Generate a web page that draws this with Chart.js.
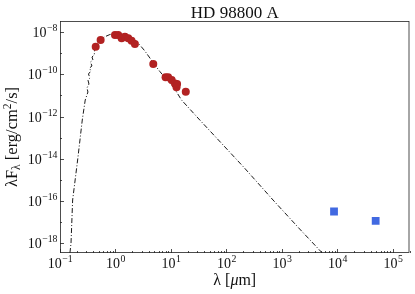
<!DOCTYPE html>
<html><head><meta charset="utf-8">
<script src="https://cdn.jsdelivr.net/npm/chart.js@4/dist/chart.umd.min.js"></script>
<style>html,body{margin:0;padding:0;background:#fff;}#wrap{width:415px;height:294px;}</style>
</head><body><div id="wrap"><canvas id="c" width="415" height="294"></canvas></div>
<script>
// Model SED (wavelength in micron, lambda*F_lambda in erg/cm^2/s)
const modelWave = [0.151,0.158,0.169,0.210,0.252,0.285,0.319,0.306,0.333,0.319,0.347,0.326,0.361,0.340,0.377,0.354,0.393,0.377,0.414,0.427,0.525,0.646,0.794,0.977,1.20,1.48,1.82,2.24,2.75,3.39,4.17,5.13,6.31,7.76,9.55,11.7,15.5,33.1,81.5,214,692,2090,5140,6310];
const modelFlux = [3.48e-19,1.03e-18,1.12e-16,1.09e-14,6.84e-13,6.05e-12,1.45e-11,2.24e-11,3.46e-11,5.35e-11,6.65e-11,1.03e-10,1.43e-10,1.98e-10,2.46e-10,3.80e-10,4.73e-10,6.56e-10,8.17e-10,1.95e-9,4.18e-9,6.00e-9,7.62e-9,8.49e-9,8.49e-9,7.62e-9,6.12e-9,4.18e-9,2.43e-9,1.26e-9,5.89e-10,2.74e-10,1.35e-10,7.03e-11,3.85e-11,2.00e-11,6.05e-12,6.84e-13,5.41e-14,3.54e-15,1.12e-16,4.75e-18,3.87e-19,1.41e-19];
// Photometry (red circles)
const photWave = [0.44,0.54,0.98,1.12,1.29,1.48,1.70,1.95,2.24,4.8,8.0,8.9,10.3,11.8,12.6,12.9,18.5];
const photFlux = [2.0e-9,4.2e-9,7.2e-9,7.2e-9,5.0e-9,6.0e-9,5.0e-9,3.9e-9,2.7e-9,3.1e-10,7.2e-11,7.2e-11,5.4e-11,3.7e-11,2.4e-11,3.5e-11,1.5e-11];
// Millimetre points (blue squares)
const mmWave = [8700, 49000];
const mmFlux = [3.2e-17, 1.15e-17];
// Tick label exponents
const xTickExps = [-1,0,1,2,3,4,5];
const yTickExps = [-18,-16,-14,-12,-10,-8];
const yMinorExps = [-17,-15,-13,-11,-9];
const titleText = 'HD 98800 A';

const SERIF = '"Liberation Serif","DejaVu Serif",serif';
const toXY = (xs, ys) => xs.map((v,i)=>({x:v,y:ys[i]}));

function drawPow(ctx, x, y, exp, align, size){
  const base='10';
  const e = exp<0 ? '\u2212'+(-exp) : String(exp);
  ctx.font = size+'px '+SERIF;
  const wb = ctx.measureText(base).width;
  ctx.font = (size*0.7)+'px '+SERIF;
  const we = ctx.measureText(e).width;
  const x0 = align==='center' ? x-(wb+we)/2 : x-(wb+we);
  ctx.textAlign='left'; ctx.textBaseline='alphabetic';
  ctx.font = size+'px '+SERIF;
  ctx.fillText(base, x0, y);
  ctx.font = (size*0.7)+'px '+SERIF;
  ctx.fillText(e, x0+wb+0.5, y-size*0.42);
}

const decor = {
  id:'decor',
  afterDraw(chart){
    const ctx=chart.ctx, a=chart.chartArea, xs=chart.scales.x, ys=chart.scales.y;
    ctx.save();
    ctx.fillStyle='#000'; ctx.strokeStyle='#222'; ctx.lineWidth=0.8;
    ctx.strokeRect(a.left+0.5, a.top+0.5, a.right-a.left-1, a.bottom-a.top-1);
    ctx.beginPath();
    for(let d=-1; d<=5; d++){
      for(let s=1; s<=9; s++){
        const v=s*Math.pow(10,d);
        const px=xs.getPixelForValue(v);
        if(px<a.left-0.1||px>a.right+0.1) continue;
        const len = s===1?4:2;
        ctx.moveTo(Math.round(px)+0.5, a.bottom); ctx.lineTo(Math.round(px)+0.5, a.bottom-len);
      }
    }
    yTickExps.forEach(e=>{const py=Math.round(ys.getPixelForValue(Math.pow(10,e)))+0.5; ctx.moveTo(a.left,py); ctx.lineTo(a.left+4,py);});
    yMinorExps.forEach(e=>{const py=Math.round(ys.getPixelForValue(Math.pow(10,e)))+0.5; ctx.moveTo(a.left,py); ctx.lineTo(a.left+2,py);});
    ctx.stroke();
    ctx.fillStyle='#111';
    xTickExps.forEach(e=>drawPow(ctx, xs.getPixelForValue(Math.pow(10,e)), a.bottom+14.5, e, 'center', 14));
    yTickExps.forEach(e=>drawPow(ctx, a.left-3, ys.getPixelForValue(Math.pow(10,e))+5, e, 'right', 14));
    ctx.font='17px '+SERIF; ctx.textAlign='center'; ctx.textBaseline='alphabetic';
    ctx.fillText(titleText, (a.left+a.right)/2, 18);
    const cx=(a.left+a.right)/2;
    const parts=[['λ [','16px '],['μ','italic 16px '],['m]','16px ']];
    let tw=0; parts.forEach(p=>{ctx.font=p[1]+SERIF; tw+=ctx.measureText(p[0]).width;});
    let x0=cx-tw/2; ctx.textAlign='left';
    parts.forEach(p=>{ctx.font=p[1]+SERIF; ctx.fillText(p[0],x0,285); x0+=ctx.measureText(p[0]).width;});
    ctx.translate(17,(a.top+a.bottom)/2); ctx.rotate(-Math.PI/2);
    const yp=[['λF',16.5,0],['λ',11.5,3],[' [erg/cm',16.5,0],['2',11.5,-6.5],['/s]',16.5,0]];
    let yw=0; yp.forEach(p=>{ctx.font=p[1]+'px '+SERIF; yw+=ctx.measureText(p[0]).width;});
    let y0=-yw/2;
    yp.forEach(p=>{ctx.font=p[1]+'px '+SERIF; ctx.fillText(p[0],y0,p[2]); y0+=ctx.measureText(p[0]).width;});
    ctx.restore();
  }
};

new Chart(document.getElementById('c'), {
  type:'scatter',
  data:{datasets:[
    {label:'photometry', data:toXY(photWave,photFlux), pointStyle:'circle', pointRadius:4, pointBackgroundColor:'#b22222', pointBorderWidth:0, showLine:false, order:1},
    {label:'mm', data:toXY(mmWave,mmFlux), pointStyle:'rect', pointRadius:5.5, pointBackgroundColor:'#4169e1', pointBorderWidth:0, showLine:false, order:2},
    {label:'model', data:toXY(modelWave,modelFlux), showLine:true, pointRadius:0, borderColor:'#000', borderWidth:0.9, borderDash:[5,2,1,2], tension:0, fill:false, order:3}
  ]},
  options:{
    responsive:false, animation:false, events:[],
    layout:{padding:{left:0,top:21,right:5,bottom:0}},
    plugins:{legend:{display:false},tooltip:{enabled:false},title:{display:false}},
    scales:{
      x:{type:'logarithmic', min:0.1, max:Math.pow(10,5.30), grid:{display:false}, border:{display:false}, ticks:{display:false}, afterFit(s){s.height=41;}},
      y:{type:'logarithmic', min:Math.pow(10,-18.459), max:Math.pow(10,-7.479), grid:{display:false}, border:{display:false}, ticks:{display:false}, afterFit(s){s.width=60;}}
    }
  },
  plugins:[decor]
});
</script></body></html>
